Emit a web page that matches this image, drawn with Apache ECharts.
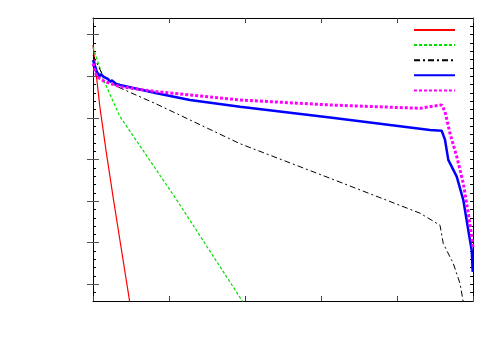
<!DOCTYPE html>
<html>
<head>
<meta charset="utf-8">
<script src="https://cdn.jsdelivr.net/npm/echarts@6/dist/echarts.min.js"></script>
<style>
  html, body { margin: 0; padding: 0; background: #fff; }
  #chart { width: 500px; height: 350px; }
</style>
</head>
<body>
<div id="chart"></div>
<script>
// Curve data [x, y]
const redLine = [[0, 5.75], [0.09, 4.27], [0.17, 3.23], [0.27, 2.03], [0.49, -0.5]];
const greenLine = [[0, 5.7], [0.158, 4.83], [0.355, 4.03], [0.654, 3.23], [1.101, 2.03], [2.0, -0.5]];
const blackLine = [
  [0, 5.51], [0.132, 5.01], [0.263, 4.81], [0.355, 4.72], [0.838, 4.33], [1.934, 3.38],
  [3.118, 2.55], [4.303, 1.71], [4.566, 1.42], [4.609, 0.98], [4.741, 0.5], [4.829, 0.02], [4.88, -0.5]
];
const blueLine = [
  [0, 5.39], [0.02, 5.28], [0.035, 5.2], [0.049, 5.11], [0.07, 5.1], [0.09, 5.0], [0.105, 5.05],
  [0.136, 4.99], [0.2, 4.93], [0.22, 4.87], [0.25, 4.9], [0.3, 4.82], [0.355, 4.79],
  [0.838, 4.59], [1.276, 4.43], [1.934, 4.27], [3.118, 4.01], [4.434, 3.71], [4.588, 3.69],
  [4.632, 3.47], [4.675, 2.99], [4.786, 2.59], [4.872, 2.03], [4.938, 1.3], [4.983, 0.82], [4.996, 0.3]
];
const magentaLine = [
  [0, 5.31], [0.049, 4.99], [0.158, 4.87], [0.355, 4.75], [0.838, 4.63], [1.276, 4.55],
  [1.934, 4.43], [3.118, 4.31], [4.303, 4.23], [4.474, 4.28], [4.588, 4.31], [4.632, 4.15],
  [4.697, 3.63], [4.786, 3.07], [4.872, 2.43], [4.938, 1.71], [4.983, 1.14], [5.0, 0.9]
];
const seriesNames = ['s1', 's2', 's3', 's4', 's5'];
const majorY = [0, 1, 2, 3, 4, 5, 6];

const myChart = echarts.init(document.getElementById('chart'));

const frame = { show: true, onZero: false, lineStyle: { color: '#000', width: 1 } };

function xAxisDef(pos) {
  return {
    type: 'value', position: pos, min: 0, max: 5, interval: 1,
    axisLine: frame,
    axisTick: { show: true, inside: true, length: 5, lineStyle: { color: '#444' } },
    axisLabel: { show: false },
    splitLine: { show: false }
  };
}

function yMinor(pos) {
  return {
    type: 'value', position: pos, min: -0.4, max: 6.4, interval: 0.2,
    axisLine: frame,
    axisTick: { show: true, inside: true, length: 3, lineStyle: { color: '#000' } },
    axisLabel: { show: false },
    splitLine: { show: false }
  };
}

function yMajor(pos) {
  return {
    type: 'value', position: pos, min: -0.4, max: 6.4,
    axisLine: { show: false },
    axisTick: { show: true, inside: true, length: 6, customValues: majorY, lineStyle: { color: '#555' } },
    axisLabel: { show: false },
    splitLine: { show: false }
  };
}

function line(name, data, color, width, type) {
  return {
    name, type: 'line', data, showSymbol: false, symbol: 'none',
    xAxisIndex: 0, yAxisIndex: 0,
    lineStyle: { color, width, type },
    itemStyle: { color },
    clip: true
  };
}

const option = {
  backgroundColor: '#fff',
  animation: false,
  grid: { left: 93, right: 27, top: 18, bottom: 49 },
  legend: {
    orient: 'vertical',
    left: 408, top: 18,
    itemWidth: 41, itemHeight: 14, itemGap: 2.5,
    itemStyle: { opacity: 0 },
    formatter: () => '',
    data: seriesNames
  },
  xAxis: [xAxisDef('bottom'), xAxisDef('top')],
  yAxis: [yMinor('left'), yMajor('left'), yMinor('right'), yMajor('right')],
  series: [
    line(seriesNames[0], redLine, '#ff0000', 1.2, 'solid'),
    line(seriesNames[1], greenLine, '#00e000', 1.2, [3, 2]),
    line(seriesNames[2], blackLine, '#000000', 1, [6, 3, 2, 3]),
    line(seriesNames[3], blueLine, '#0000ff', 2.5, 'solid'),
    line(seriesNames[4], magentaLine, '#ff00ff', 3, [3, 2])
  ]
};

myChart.setOption(option);
</script>
</body>
</html>
